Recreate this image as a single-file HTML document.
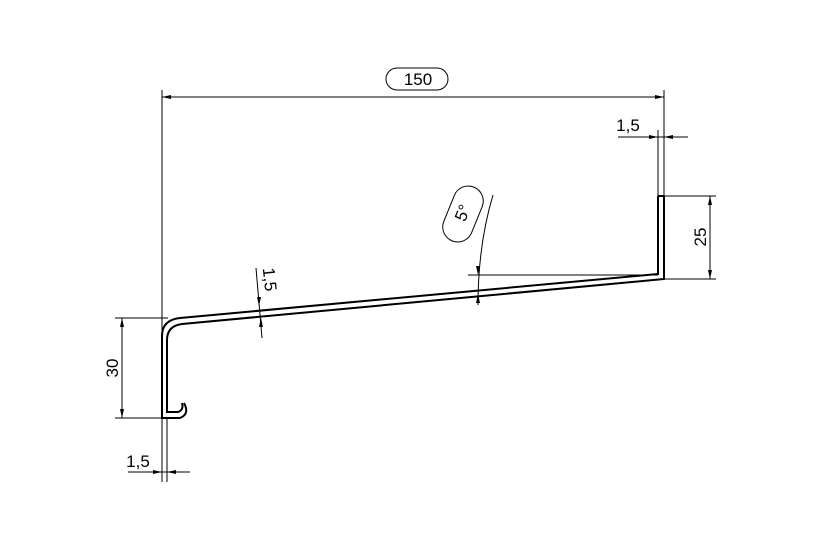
<!DOCTYPE html>
<html><head><style>body{margin:0;background:#fff}</style></head><body>
<svg width="820" height="547" viewBox="0 0 820 547" xmlns="http://www.w3.org/2000/svg" font-family="Liberation Sans, sans-serif">
<g stroke="#000" fill="none" stroke-width="1">
<line x1="162" y1="90" x2="162" y2="482"/>
<line x1="167" y1="418" x2="167" y2="482"/>
<line x1="664" y1="90" x2="664" y2="196"/>
<line x1="658" y1="130" x2="658" y2="196"/>
<line x1="664" y1="196" x2="716" y2="196"/>
<line x1="664" y1="279" x2="716" y2="279"/>
<line x1="468" y1="275" x2="658" y2="275"/>
<line x1="115" y1="318" x2="168" y2="318"/>
<line x1="115" y1="418" x2="165" y2="418"/>
<line x1="162" y1="97" x2="664" y2="97"/>
<line x1="618" y1="137" x2="688" y2="137"/>
<line x1="128" y1="472" x2="190" y2="472"/>
<line x1="710" y1="196" x2="710" y2="279"/>
<line x1="122" y1="318" x2="122" y2="418"/>
<line x1="256" y1="268" x2="262" y2="338"/>
<path d="M493 195 Q478 245 478 305"/>
<rect x="386" y="68" width="62" height="22" rx="11"/>
<rect x="434" y="199" width="58" height="30" rx="15" transform="rotate(-68 463 214)"/>
<g stroke-width="2">
<path d="M664 196 L664 279 L182 324 Q167 326 167 340 L167 412 L178 412 Q184 410 182 403"/>
<path d="M658 196 L658 274 L180 318 Q162 320 162 336 L162 418 L180 418 Q190 414 184 403"/>
<line x1="658" y1="196" x2="664" y2="196"/>
</g>
</g>
<g fill="#000">
<path d="M162 97 l9 -2 v4z M664 97 l-9 -2 v4z"/>
<path d="M658 137 l-9 -2 v4z M664 137 l9 -2 v4z"/>
<path d="M162 472 l-9 -2 v4z M167 472 l9 -2 v4z"/>
<path d="M710 196 l-2 9 h4z M710 279 l-2 -9 h4z"/>
<path d="M122 318 l-2 9 h4z M122 418 l-2 -9 h4z"/>
<path d="M259 306 l-2 -9 h4z M261 318 l-2 9 h4z"/>
<path d="M478 275 l-2 -9 h4z M478 294 l-2 9 h4z"/>
</g>
<g font-size="17" fill="#000">
<text x="418" y="85" text-anchor="middle">150</text>
<text x="628" y="131" text-anchor="middle">1,5</text>
<text x="138" y="467" text-anchor="middle">1,5</text>
<text transform="translate(706 237) rotate(-90)" text-anchor="middle">25</text>
<text transform="translate(118 368) rotate(-90)" text-anchor="middle">30</text>
<text transform="translate(264 280) rotate(84)" text-anchor="middle">1,5</text>
<text transform="translate(468 215) rotate(-68)" text-anchor="middle">5°</text>
</g>
</svg>
</body></html>
